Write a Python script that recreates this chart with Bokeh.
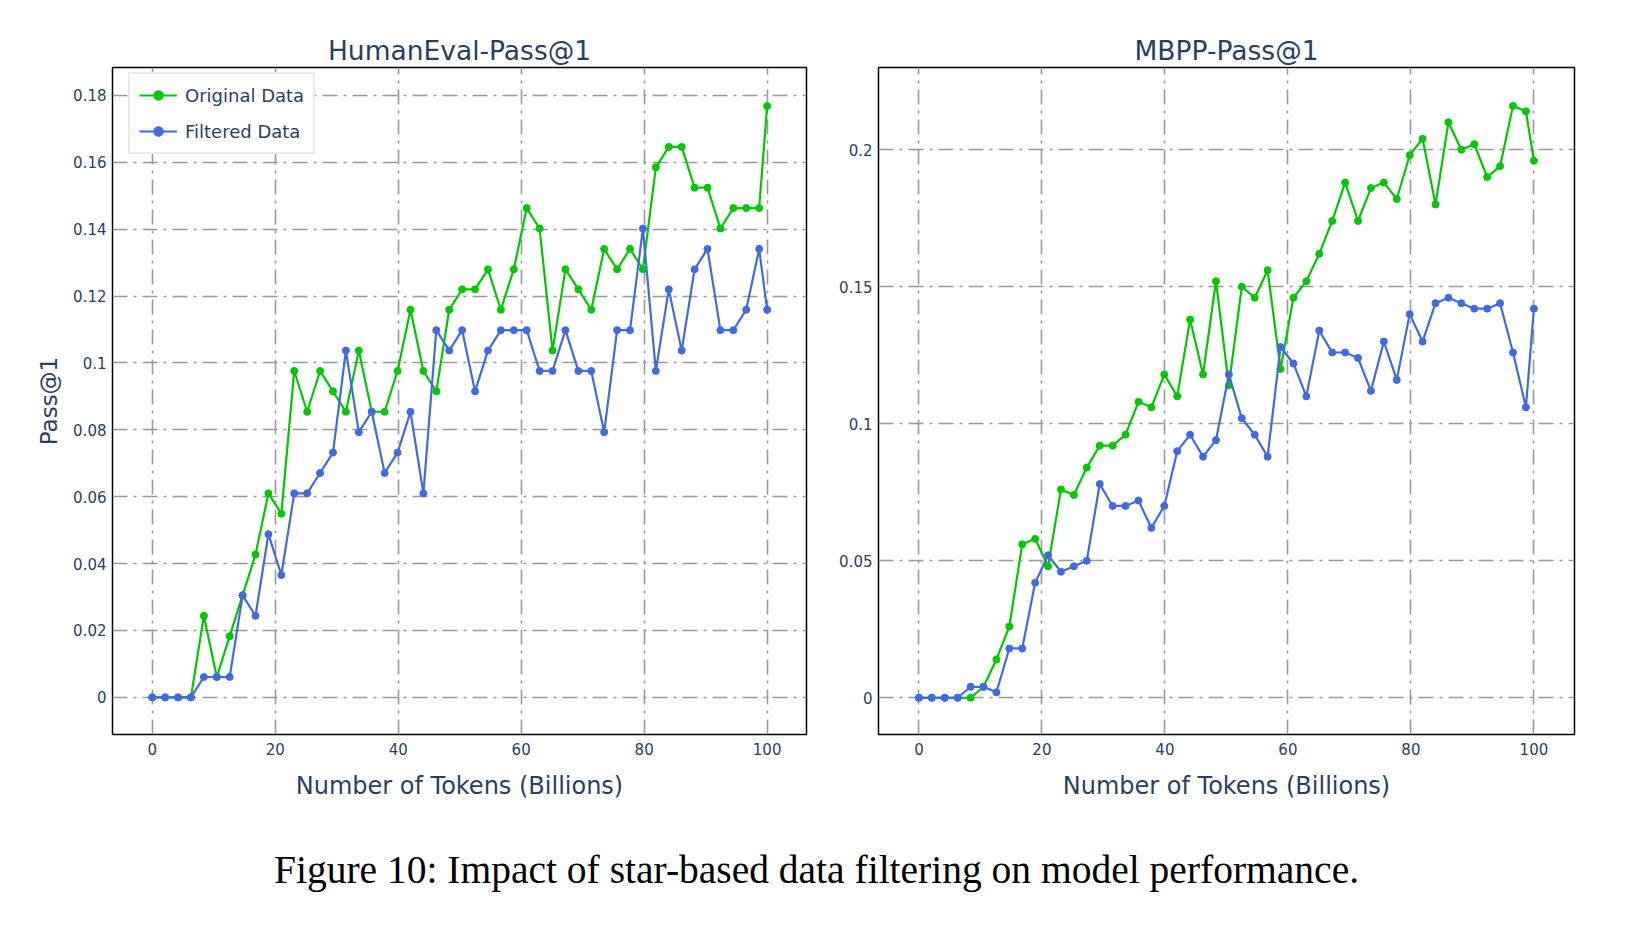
from bokeh.plotting import figure
from bokeh.models import Range1d, FixedTicker, Label, Title
from bokeh.layouts import row, column
from bokeh.embed import file_html
from bokeh.resources import INLINE

# ---------------- data ----------------
tokens = [0, 2.1, 4.2, 6.3, 8.4, 10.5, 12.6, 14.7, 16.8, 18.9, 21.0, 23.1, 25.2, 27.3,
          29.4, 31.5, 33.6, 35.7, 37.8, 39.9, 42.0, 44.1, 46.2, 48.3, 50.4, 52.5, 54.6,
          56.7, 58.8, 60.9, 63.0, 65.1, 67.2, 69.3, 71.4, 73.5, 75.6, 77.7, 79.8, 81.9,
          84.0, 86.1, 88.2, 90.3, 92.4, 94.5, 96.6, 98.7, 100]

he_original = [0, 0, 0, 0, 0.0244, 0.0061, 0.0183, 0.0305, 0.0427, 0.0610, 0.0549, 0.0976,
               0.0854, 0.0976, 0.0915, 0.0854, 0.1037, 0.0854, 0.0854, 0.0976, 0.1159, 0.0976,
               0.0915, 0.1159, 0.1220, 0.1220, 0.1280, 0.1159, 0.1280, 0.1463, 0.1402, 0.1037,
               0.1280, 0.1220, 0.1159, 0.1341, 0.1280, 0.1341, 0.1280, 0.1585, 0.1646, 0.1646,
               0.1524, 0.1524, 0.1402, 0.1463, 0.1463, 0.1463, 0.1768]

he_filtered = [0, 0, 0, 0, 0.0061, 0.0061, 0.0061, 0.0305, 0.0244, 0.0488, 0.0366, 0.0610,
               0.0610, 0.0671, 0.0732, 0.1037, 0.0793, 0.0854, 0.0671, 0.0732, 0.0854, 0.0610,
               0.1098, 0.1037, 0.1098, 0.0915, 0.1037, 0.1098, 0.1098, 0.1098, 0.0976, 0.0976,
               0.1098, 0.0976, 0.0976, 0.0793, 0.1098, 0.1098, 0.1402, 0.0976, 0.1220, 0.1037,
               0.1280, 0.1341, 0.1098, 0.1098, 0.1159, 0.1341, 0.1159]

mbpp_original = [0, 0, 0, 0, 0, 0.004, 0.014, 0.026, 0.056, 0.058, 0.048, 0.076, 0.074,
                 0.084, 0.092, 0.092, 0.096, 0.108, 0.106, 0.118, 0.110, 0.138, 0.118, 0.152,
                 0.114, 0.150, 0.146, 0.156, 0.120, 0.146, 0.152, 0.162, 0.174, 0.188, 0.174,
                 0.186, 0.188, 0.182, 0.198, 0.204, 0.180, 0.210, 0.200, 0.202, 0.190, 0.194,
                 0.216, 0.214, 0.196]

mbpp_filtered = [0, 0, 0, 0, 0.004, 0.004, 0.002, 0.018, 0.018, 0.042, 0.052, 0.046, 0.048,
                 0.050, 0.078, 0.070, 0.070, 0.072, 0.062, 0.070, 0.090, 0.096, 0.088, 0.094,
                 0.118, 0.102, 0.096, 0.088, 0.128, 0.122, 0.110, 0.134, 0.126, 0.126, 0.124,
                 0.112, 0.130, 0.116, 0.140, 0.130, 0.144, 0.146, 0.144, 0.142, 0.142, 0.144,
                 0.126, 0.106, 0.142]

series_names = ["Original Data", "Filtered Data"]
x_ticks = [0, 20, 40, 60, 80, 100]
x_tick_labels = ["0", "20", "40", "60", "80", "100"]
he_y_ticks = [0, 0.02, 0.04, 0.06, 0.08, 0.1, 0.12, 0.14, 0.16, 0.18]
he_y_labels = ["0", "0.02", "0.04", "0.06", "0.08", "0.1", "0.12", "0.14", "0.16", "0.18"]
mbpp_y_ticks = [0, 0.05, 0.1, 0.15, 0.2]
mbpp_y_labels = ["0", "0.05", "0.1", "0.15", "0.2"]

titles = ["HumanEval-Pass@1", "MBPP-Pass@1"]
x_title = "Number of Tokens (Billions)"
y_title = "Pass@1"
caption = "Figure 10: Impact of star-based data filtering on model performance."

# ---------------- style ----------------
GREEN = "#00c800"
BLUE = "#4169e1"
TXT = "#2a3f5f"
FONT = "DejaVu Sans"


def make_panel(title, xr, yr, yticks, ylabels, orig, filt, fw, mbl, mbr, ylab, legend):
    p = figure(frame_width=fw, frame_height=667,
               min_border_left=mbl, min_border_right=mbr,
               min_border_top=67, min_border_bottom=80,
               x_range=Range1d(*xr), y_range=Range1d(*yr),
               toolbar_location=None, output_backend="svg",
               background_fill_color="white", border_fill_color="white")
    p.title = Title(text=title, align="center", text_font=FONT, text_font_size="26.5px",
                    text_font_style="normal", text_color=TXT, standoff=3)
    p.outline_line_color = "black"
    p.outline_line_width = 1.5

    p.xaxis.ticker = FixedTicker(ticks=x_ticks)
    p.yaxis.ticker = FixedTicker(ticks=yticks)
    p.xaxis.major_label_overrides = dict(zip(x_ticks, x_tick_labels))
    p.yaxis.major_label_overrides = dict(zip(yticks, ylabels))
    for ax in (p.xaxis[0], p.yaxis[0]):
        ax.axis_line_color = None
        ax.major_tick_line_color = None
        ax.minor_tick_line_color = None
        ax.major_tick_out = 0
        ax.major_tick_in = 0
        ax.minor_tick_out = 0
        ax.major_label_text_font = FONT
        ax.major_label_text_color = TXT
        ax.major_label_text_font_size = "15px"
        ax.axis_label_text_font = FONT
        ax.axis_label_text_color = TXT
        ax.axis_label_text_font_style = "normal"
    p.xaxis.axis_label_text_font_size = "24px"
    p.yaxis.axis_label_text_font_size = "23px"
    p.xaxis.major_label_standoff = 8
    p.yaxis.major_label_standoff = 6
    p.xaxis.axis_label = x_title
    p.xaxis.axis_label_standoff = 14
    if ylab:
        p.yaxis.axis_label = ylab
        p.yaxis.axis_label_standoff = 8

    for g in (p.xgrid[0], p.ygrid[0]):
        g.grid_line_color = "#999999"
        g.grid_line_width = 1.6
        g.grid_line_dash = "15 6 3 6"

    kw0 = dict(legend_label=series_names[0]) if legend else {}
    kw1 = dict(legend_label=series_names[1]) if legend else {}
    p.line(tokens, orig, line_color=GREEN, line_width=2.2, **kw0)
    p.scatter(tokens, orig, size=7, fill_color=GREEN, line_color=GREEN, **kw0)
    p.line(tokens, filt, line_color=BLUE, line_width=2.2, **kw1)
    p.scatter(tokens, filt, size=7, fill_color=BLUE, line_color=BLUE, **kw1)

    if legend:
        lg = p.legend[0]
        lg.location = (16, 580)
        lg.margin = 0
        lg.padding = 9
        lg.spacing = 12
        lg.glyph_width = 38
        lg.glyph_height = 24
        lg.label_height = 24
        lg.label_standoff = 8
        lg.label_text_font = FONT
        lg.label_text_font_size = "18px"
        lg.label_text_color = TXT
        lg.border_line_color = "#d6d6d6"
        lg.border_line_width = 2
        lg.background_fill_color = "white"
        lg.background_fill_alpha = 1
    return p


p1 = make_panel(titles[0], (-6.455, 106.4), (-0.0111, 0.18834), he_y_ticks, he_y_labels,
                he_original, he_filtered, 694, 112, 30, y_title, True)
p2 = make_panel(titles[1], (-6.57, 106.6), (-0.0134, 0.2300), mbpp_y_ticks, mbpp_y_labels,
                mbpp_original, mbpp_filtered, 696, 42, 48, None, False)

cap = figure(width=1634, height=110, x_range=Range1d(0, 1634), y_range=Range1d(0, 110),
             x_axis_type=None, y_axis_type=None, toolbar_location=None,
             output_backend="svg", min_border=0, outline_line_color=None)
cap.add_layout(Label(x=816, y=55, text=caption, text_align="center",
                     text_baseline="alphabetic", text_font="Liberation Serif",
                     text_font_size="39.5px", text_color="black"))

layout = column(row(p1, p2), cap)
open("out.html", "w").write(file_html(layout, INLINE))
